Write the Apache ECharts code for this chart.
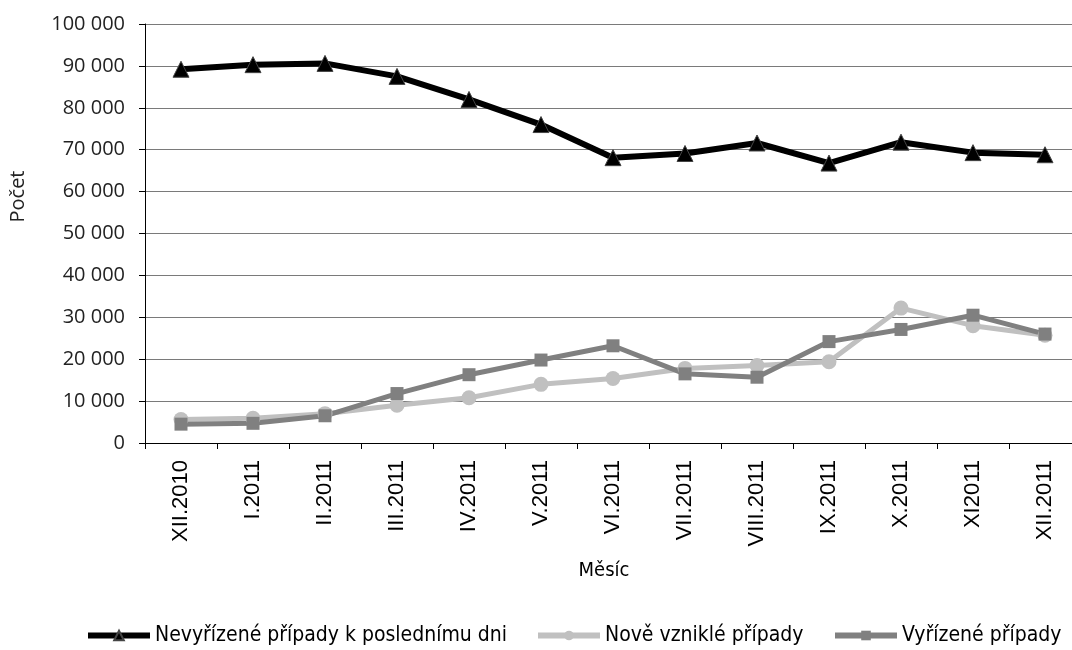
<!DOCTYPE html>
<html>
<head>
<meta charset="utf-8">
<script src="https://cdn.jsdelivr.net/npm/echarts@6/dist/echarts.min.js"></script>
<style>html,body{margin:0;padding:0;background:#fff;overflow:hidden}#c{width:1100px;height:650px}</style>
</head>
<body>
<div id="c"></div>
<script>
const categories = ['XII.2010','I.2011','II.2011','III.2011','IV.2011','V.2011','VI.2011','VII.2011','VIII.2011','IX.2011','X.2011','XI2011','XII.2011'];
const nevyrizene = [89200, 90300, 90600, 87500, 82000, 76000, 68100, 69100, 71600, 66800, 71800, 69300, 68800];
const nove = [5600, 5900, 7000, 9000, 10800, 14000, 15400, 17800, 18500, 19400, 32200, 28000, 25700];
const vyrizene = [4500, 4700, 6500, 11800, 16300, 19800, 23200, 16500, 15700, 24200, 27100, 30500, 26000];
const names = ['Nevyřízené případy k poslednímu dni', 'Nově vzniklé případy', 'Vyřízené případy'];

const chart = echarts.init(document.getElementById('c'));
const legendText = {fontFamily: 'DejaVu Sans Condensed', fontSize: 21, color: '#000'};
const legendBase = {top: 625, itemWidth: 62, itemHeight: 12, textStyle: legendText, padding: 0, lineStyle: {width: 6}};
chart.setOption({
  animation: false,
  grid: {left: 145, top: 24, width: 936, height: 419},
  xAxis: {
    type: 'category', data: categories, boundaryGap: true,
    name: 'Měsíc', nameLocation: 'middle', nameGap: 118,
    nameTextStyle: {fontFamily: 'DejaVu Sans Condensed', fontSize: 20, color: '#000', padding: [0, 18, 0, 0]},
    axisLine: {lineStyle: {color: '#000', width: 1}},
    axisTick: {show: true, length: 6, lineStyle: {color: '#000'}},
    axisLabel: {rotate: 90, margin: 17, fontFamily: 'Liberation Sans', fontSize: 22, color: '#000'}
  },
  yAxis: {
    type: 'value', min: 0, max: 100000, interval: 10000,
    name: 'Počet', nameLocation: 'middle', nameGap: 117, nameRotate: 90,
    nameTextStyle: {fontFamily: 'Open Sans', fontSize: 20, color: '#222', padding: [0, 0, 0, 74]},
    axisLine: {show: true, lineStyle: {color: '#000', width: 1}},
    axisTick: {show: true, length: 6, lineStyle: {color: '#000'}},
    axisLabel: {margin: 20, fontFamily: 'Open Sans', fontSize: 20, color: '#222',
      formatter: v => String(v).replace(/\B(?=(\d{3})+(?!\d))/g, ' ')},
    splitLine: {lineStyle: {color: '#7a7a7a', width: 1}}
  },
  legend: [
    Object.assign({data: [names[0]], left: 85}, legendBase),
    Object.assign({data: [names[1]], left: 535}, legendBase),
    Object.assign({data: [names[2]], left: 832}, legendBase)
  ],
  series: [
    {name: names[0], type: 'line', data: nevyrizene, symbol: 'triangle', symbolSize: 16,
      lineStyle: {color: '#000', width: 6}, itemStyle: {color: '#000', borderColor: '#444', borderWidth: 1}, z: 3},
    {name: names[1], type: 'line', data: nove, symbol: 'circle', symbolSize: 15,
      lineStyle: {color: '#c0c0c0', width: 5}, itemStyle: {color: '#c0c0c0'}, z: 2},
    {name: names[2], type: 'line', data: vyrizene, symbol: 'rect', symbolSize: 13,
      lineStyle: {color: '#808080', width: 5}, itemStyle: {color: '#808080'}, z: 2}
  ]
});
</script>
</body>
</html>
